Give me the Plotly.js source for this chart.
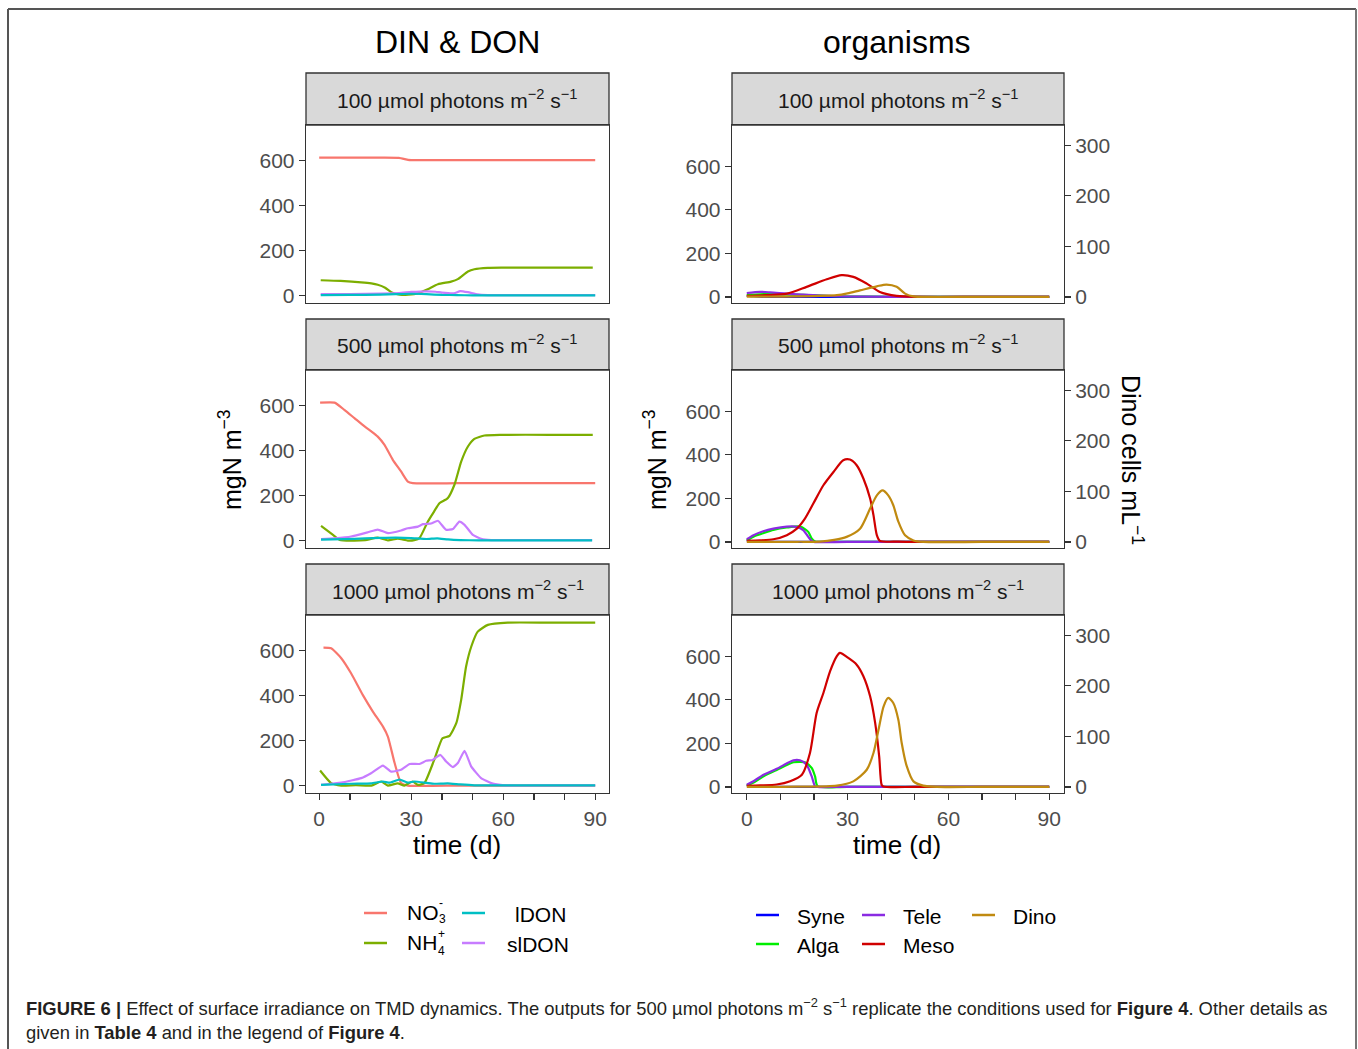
<!DOCTYPE html>
<html>
<head>
<meta charset="utf-8">
<script src="https://cdn.plot.ly/plotly-3.0.1.min.js"></script>
<style>html,body{margin:0;padding:0;background:#fff;}#chart{width:1358px;height:1049px;}</style>
</head>
<body>
<div id="chart"></div>
<script>
// ---------- DATA ----------
const panelLabels = ["100", "500", "1000"];
const xTickVals = [0, 10, 20, 30, 40, 50, 60, 70, 80, 90];
const xTickText = ["0", "", "", "30", "", "", "60", "", "", "90"];
const yTickLeft = [0, 200, 400, 600];
const yTickDino = [0, 100, 200, 300];

// DIN & DON, 100
const no3_100_t = [0, 10, 20, 26, 29, 30, 45, 60, 75, 90];
const no3_100 = [613, 613, 613, 612, 603, 602, 602, 602, 602, 602];
const nh4_100_t = [0.5, 7, 13.7, 17, 19.1, 21.5, 23.5, 25.5, 27, 29, 32.2, 35.4, 38.7, 43, 45.2, 48.5, 50.6, 55, 60, 75, 89.2];
const nh4_100 = [68, 65, 59, 54, 48, 35, 15, 6, 3, 4, 10, 28, 50, 62, 73, 107, 117, 123, 124, 124, 124];
const sidon_100_t = [0.5, 10, 20, 26, 30, 35, 38, 40, 44, 46, 48.5, 51.7, 55, 70, 90];
const sidon_100 = [6, 7, 9, 11, 16, 19, 17, 13, 10, 20, 15, 5, 2, 2, 2];
const idon_100_t = [0.5, 10, 20, 25, 30, 35, 40, 45, 50, 60, 90];
const idon_100 = [2, 3, 4, 6, 8, 6, 3, 2, 1, 1, 1];

// DIN & DON, 500
const no3_500_t = [0.3, 5, 8.2, 11.5, 14.8, 17, 19.1, 21.3, 24, 26.7, 28.9, 30.5, 45, 60, 75, 90];
const no3_500 = [613, 613, 581, 544, 507, 485, 462, 425, 359, 307, 262, 255, 255, 255, 255, 255];
const nh4_500_t = [0.6, 4.5, 6.7, 10.5, 15, 19.1, 22.4, 25.6, 28.9, 31, 32.7, 35.4, 37.5, 39.2, 41.9, 44.1, 46.3, 48.5, 50.6, 53.9, 59.3, 75, 89.2];
const nh4_500 = [65, 25, 3, 0, 2, 13, 1, 8, 0, 2, 11, 84, 130, 166, 188, 248, 351, 418, 452, 467, 470, 470, 470];
const sidon_500_t = [0.6, 5, 10.4, 15.9, 19.1, 22.4, 26.7, 28.9, 32.2, 33.8, 36.5, 38.7, 41.4, 43.6, 45.7, 47.4, 50.1, 52.8, 56.1, 70, 89];
const sidon_500 = [6, 10, 18, 37, 49, 33, 45, 55, 62, 73, 76, 88, 48, 51, 84, 70, 25, 8, 2, 2, 2];
const idon_500_t = [0.6, 8, 15, 20, 25, 30, 35, 38.5, 42, 46, 52, 60, 89];
const idon_500 = [4, 6, 10, 12, 13, 11, 7, 10, 5, 2, 1, 1, 1];

// DIN & DON, 1000
const no3_1000_t = [1.4, 3.9, 7.2, 10.4, 14.2, 17.5, 20.8, 22.4, 24.6, 26.7, 28.9, 45, 60, 75, 90];
const no3_1000 = [613, 610, 566, 499, 403, 329, 262, 218, 100, 11, 0, 0, 0, 0, 0];
const nh4_1000_t = [0.3, 3.9, 7.2, 12, 17, 20.2, 22.4, 25.6, 27.8, 30.5, 32.2, 34.3, 37.5, 40.2, 42.5, 44.7, 46.3, 47.9, 49.6, 51.7, 55, 61.5, 75, 90];
const nh4_1000 = [67, 11, 0, 2, 0, 18, 0, 10, 0, 18, 3, 11, 114, 210, 221, 277, 381, 529, 618, 684, 714, 724, 724, 724];
const sidon_1000_t = [0.6, 7.2, 13.7, 16.9, 20.8, 23.5, 26.7, 29.5, 32.7, 34.9, 37, 39.5, 41.4, 43.6, 45.2, 47.4, 49.6, 52.8, 56.1, 60.4, 75, 90];
const sidon_1000 = [3, 13, 33, 55, 89, 62, 70, 96, 96, 110, 114, 136, 107, 82, 100, 154, 84, 33, 11, 1, 1, 1];
const idon_1000_t = [0.6, 10.4, 17, 20.8, 23, 26.2, 28.9, 31, 35, 37.5, 41.9, 46, 50.6, 60, 90];
const idon_1000 = [3, 8, 10, 18, 13, 27, 13, 18, 12, 8, 10, 5, 1, 1, 1];

// organisms, 100
const syne_100_t = [0, 2, 4, 8, 90];
const syne_100 = [6, 3, 1, 0, 0];
const alga_100_t = [0, 4, 6.9, 11.9, 16.8, 26.8, 35, 45, 90];
const alga_100 = [8, 12, 13, 12, 9, 3, 1, 0, 0];
const tele_100_t = [0, 4, 6.9, 11.9, 16.8, 26.8, 35, 45, 90];
const tele_100 = [18, 23, 21, 15, 10, 3, 1, 0, 0];
const meso_100_t = [0, 6, 11.9, 17.8, 23.8, 28.2, 31.7, 35.7, 39.6, 44.6, 51.5, 70, 90];
const meso_100 = [5, 8, 15, 46, 81, 100, 92, 61, 23, 5, 0, 0, 0];
const dino_100_t = [0, 15, 26.8, 30, 33.7, 38.7, 41.6, 44.6, 47.1, 49.6, 55, 70, 90];
const dino_100 = [0.5, 1, 3.4, 7, 13, 21, 24.4, 20, 6.6, 1, 0, 0, 0];

// organisms, 500
const syne_500_t = [0, 1, 2, 4, 90];
const syne_500 = [10, 5, 1, 0, 0];
const alga_500_t = [0, 2, 4.9, 7.9, 11.9, 15.9, 18.3, 19.3, 20.3, 21, 30, 90];
const alga_500 = [8, 24, 40, 55, 66, 70, 46, 16, 2, 0, 0, 0];
const tele_500_t = [0, 2, 4.9, 7.9, 11.9, 14.9, 16.8, 18.3, 19.3, 20, 30, 90];
const tele_500 = [12, 31, 49, 61, 70, 69, 54, 23, 5, 0, 0, 0];
const meso_500_t = [0, 4, 7.9, 11.9, 14.9, 17.3, 19.8, 22.8, 25.8, 28.7, 30.7, 32.7, 34.7, 36.7, 37.7, 38.7, 39.6, 45, 51.5, 70, 90];
const meso_500 = [5, 7, 12, 31, 61, 107, 176, 260, 321, 375, 378, 352, 291, 199, 123, 31, 5, 1, 0, 0, 0];
const dino_500_t = [0, 15, 21.8, 26, 29.7, 33.7, 36.7, 38.7, 40.4, 42.1, 43.6, 45.1, 47.1, 49.6, 52.5, 70, 90];
const dino_500 = [0, 0.3, 0.7, 4, 10, 26, 66, 92, 102, 92, 72.5, 40, 13, 3, 0, 0, 0];

// organisms, 1000
const syne_1000_t = [0, 1, 2.5, 4, 90];
const syne_1000 = [10, 5, 1, 0, 0];
const alga_1000_t = [0, 2, 5, 8.9, 13.9, 15.8, 17.3, 19.3, 20.3, 21.1, 30, 90];
const alga_1000 = [6, 20, 49, 78, 113, 115, 113, 87, 49, 3, 0, 0];
const tele_1000_t = [0, 2, 5, 8.9, 13.9, 15.8, 17.8, 19.3, 20.3, 21, 30, 90];
const tele_1000 = [10, 26, 56, 83, 122, 122, 102, 49, 3, 0, 0, 0];
const meso_1000_t = [0, 4, 8.9, 12.9, 16.4, 18.8, 20.8, 22.8, 24.8, 26.8, 27.7, 30.2, 32.7, 34.7, 36.7, 38.2, 39.4, 40.1, 40.6, 50, 70, 90];
const meso_1000 = [5, 7, 11, 26, 56, 156, 340, 431, 531, 600, 615, 592, 561, 508, 416, 294, 140, 11, 2, 0, 0, 0];
const dino_1000_t = [0, 15, 26.8, 31.7, 35.7, 37.7, 39.2, 40.7, 42.1, 43.6, 45.1, 46.1, 47.6, 49.6, 52.5, 56.5, 70, 90];
const dino_1000 = [0, 0.5, 2.6, 11, 34, 67, 113, 159, 176, 166, 133, 87, 41, 11, 2.6, 0, 0, 0];

// ---------- STYLE ----------
const W = 1358, H = 1049;
const FONT = "Liberation Sans, Arial, Helvetica, sans-serif";
const C = {
  no3: "#F8766D", nh4: "#7CAE00", idon: "#00BFC4", sidon: "#C77CFF",
  syne: "#0000FF", alga: "#00EE00", tele: "#8A2BE2", meso: "#D00000", dino: "#C08A10"
};
const px = x => x / W;
const py = y => 1 - y / H;

const traces = [];
function line(t, v, color, xa, ya, smooth) {
  traces.push({type: "scatter", mode: "lines", x: t, y: v, xaxis: xa, yaxis: ya,
    line: {color: color, width: 2.2, shape: smooth ? "spline" : "linear", smoothing: smooth || 0},
    showlegend: false, hoverinfo: "skip"});
}
// left column
line(no3_100_t, no3_100, C.no3, "x", "y", 0.5);
line(nh4_100_t, nh4_100, C.nh4, "x", "y", 0.6);
line(sidon_100_t, sidon_100, C.sidon, "x", "y", 0.4);
line(idon_100_t, idon_100, C.idon, "x", "y", 0.4);
line(no3_500_t, no3_500, C.no3, "x2", "y2", 0.5);
line(nh4_500_t, nh4_500, C.nh4, "x2", "y2", 0.5);
line(sidon_500_t, sidon_500, C.sidon, "x2", "y2", 0.4);
line(idon_500_t, idon_500, C.idon, "x2", "y2", 0.4);
line(no3_1000_t, no3_1000, C.no3, "x3", "y3", 0.5);
line(nh4_1000_t, nh4_1000, C.nh4, "x3", "y3", 0.5);
line(sidon_1000_t, sidon_1000, C.sidon, "x3", "y3", 0.4);
line(idon_1000_t, idon_1000, C.idon, "x3", "y3", 0.4);
// right column
line(syne_100_t, syne_100, C.syne, "x4", "y4", 0.6);
line(alga_100_t, alga_100, C.alga, "x4", "y4", 0.8);
line(tele_100_t, tele_100, C.tele, "x4", "y4", 0.8);
line(meso_100_t, meso_100, C.meso, "x4", "y4", 0.8);
line(dino_100_t, dino_100, C.dino, "x4", "y7", 0.8);
line(syne_500_t, syne_500, C.syne, "x5", "y5", 0.6);
line(alga_500_t, alga_500, C.alga, "x5", "y5", 0.7);
line(tele_500_t, tele_500, C.tele, "x5", "y5", 0.7);
line(meso_500_t, meso_500, C.meso, "x5", "y5", 0.7);
line(dino_500_t, dino_500, C.dino, "x5", "y8", 0.7);
line(syne_1000_t, syne_1000, C.syne, "x6", "y6", 0.6);
line(alga_1000_t, alga_1000, C.alga, "x6", "y6", 0.7);
line(tele_1000_t, tele_1000, C.tele, "x6", "y6", 0.7);
line(meso_1000_t, meso_1000, C.meso, "x6", "y6", 0.7);
line(dino_1000_t, dino_1000, C.dino, "x6", "y9", 0.7);

// ---------- LAYOUT ----------
const rows = [[125, 303], [370, 548], [615, 793]];
const strips = [[73, 125], [319, 370], [564, 615]];
const colL = [306, 609], colR = [732, 1064];
const tickFont = {family: FONT, size: 21, color: "#4D4D4D"};

function xAxis(col, row, anchor) {
  const bottom = row === 2;
  return {
    domain: [px(col[0]), px(col[1])],
    range: col === colL ? [-4.3, 94.5] : [-4.4, 94.4],
    anchor: anchor, tickmode: "array", tickvals: xTickVals, ticktext: xTickText,
    ticks: bottom ? "outside" : "", ticklen: 6, tickwidth: 1.3, tickcolor: "#333",
    showticklabels: bottom, tickfont: tickFont,
    showline: true, mirror: true, linecolor: "#333", linewidth: 1.3,
    showgrid: false, zeroline: false
  };
}
function yAxis(row, anchor, range) {
  return {
    domain: [py(rows[row][1]), py(rows[row][0])],
    range: range, anchor: anchor, tickmode: "array", tickvals: yTickLeft,
    ticks: "outside", ticklen: 6, tickwidth: 1.3, tickcolor: "#333", tickfont: tickFont,
    showline: true, mirror: true, linecolor: "#333", linewidth: 1.3,
    showgrid: false, zeroline: false
  };
}
function dinoAxis(over, anchor) {
  return {
    overlaying: over, side: "right", anchor: anchor, range: [-12, 340],
    tickmode: "array", tickvals: yTickDino, ticks: "outside", ticklen: 6, tickwidth: 1.3,
    tickcolor: "#333", tickfont: tickFont, showline: false, showgrid: false, zeroline: false
  };
}

const shapes = [];
const annotations = [];
// frame
shapes.push({type: "line", xref: "paper", yref: "paper", x0: px(8), x1: px(1356), y0: py(9), y1: py(9), line: {color: "#555", width: 2}});
shapes.push({type: "line", xref: "paper", yref: "paper", x0: px(8), x1: px(8), y0: py(9), y1: py(1049), line: {color: "#555", width: 2}});
shapes.push({type: "line", xref: "paper", yref: "paper", x0: px(1356), x1: px(1356), y0: py(9), y1: py(1049), line: {color: "#777", width: 2}});

// strips
[colL, colR].forEach(col => {
  strips.forEach((s, i) => {
    shapes.push({type: "rect", xref: "paper", yref: "paper", x0: px(col[0]), x1: px(col[1]),
      y0: py(s[1]), y1: py(s[0]), fillcolor: "#D9D9D9", line: {color: "#333", width: 1.3}, layer: "below"});
    annotations.push({xref: "paper", yref: "paper", x: px((col[0] + col[1]) / 2), y: py((s[0] + s[1]) / 2),
      xanchor: "center", yanchor: "middle", showarrow: false,
      text: panelLabels[i] + " µmol photons m<sup>−2</sup> s<sup>−1</sup>",
      font: {family: FONT, size: 21, color: "#1A1A1A"}});
  });
});

// titles
function ann(x, y, text, size, opts) {
  annotations.push(Object.assign({xref: "paper", yref: "paper", x: px(x), y: py(y), text: text,
    showarrow: false, xanchor: "center", yanchor: "middle",
    font: {family: FONT, size: size, color: "#000"}}, opts || {}));
}
ann(457, 42, "DIN &amp; DON", 32);
ann(897, 42, "organisms", 32);
ann(457, 845, "time (d)", 26);
ann(897, 845, "time (d)", 26);
ann(230, 460, "mgN m<sup>−3</sup>", 25, {textangle: -90});
ann(655, 460, "mgN m<sup>−3</sup>", 25, {textangle: -90});
ann(1132, 460, "Dino cells mL<sup>−1</sup>", 25, {textangle: 90});

// legends (keys drawn as short lines, labels as text)
function key(x, y, color) {
  shapes.push({type: "line", xref: "paper", yref: "paper", x0: px(x), x1: px(x + 23), y0: py(y), y1: py(y),
    line: {color: color, width: 2.5}});
}
const legFont = 21;
key(364, 913, C.no3); key(364, 943, C.nh4); key(462, 913, C.idon); key(462, 943, C.sidon);
ann(405, 912, "NO", legFont, {xanchor: "left"});
ann(437, 903, "-", 12, {xanchor: "left"});
ann(437, 919, "3", 12, {xanchor: "left"});
ann(405, 942, "NH", legFont, {xanchor: "left"});
ann(436, 934, "+", 12, {xanchor: "left"});
ann(436, 951, "4", 12, {xanchor: "left"});
ann(513, 914, "lDON", legFont, {xanchor: "left"});
ann(505, 944, "slDON", legFont, {xanchor: "left"});

key(756, 915, C.syne); key(756, 944, C.alga); key(862, 915, C.tele); key(862, 944, C.meso); key(972, 915, C.dino);
ann(795, 916, "Syne", legFont, {xanchor: "left"});
ann(795, 945, "Alga", legFont, {xanchor: "left"});
ann(901, 916, "Tele", legFont, {xanchor: "left"});
ann(901, 945, "Meso", legFont, {xanchor: "left"});
ann(1011, 916, "Dino", legFont, {xanchor: "left"});

// caption
const capFont = {family: FONT, size: 18.4, color: "#231F20"};
annotations.push({xref: "paper", yref: "paper", x: px(24), y: py(1007), xanchor: "left", yanchor: "middle", showarrow: false,
  font: capFont,
  text: "<b>FIGURE 6 |</b> Effect of surface irradiance on TMD dynamics. The outputs for 500 µmol photons m<sup>−2</sup> s<sup>−1</sup> replicate the conditions used for <b>Figure 4</b>. Other details as"});
annotations.push({xref: "paper", yref: "paper", x: px(24), y: py(1032), xanchor: "left", yanchor: "middle", showarrow: false,
  font: capFont,
  text: "given in <b>Table 4</b> and in the legend of <b>Figure 4</b>."});

const layout = {
  width: W, height: H, margin: {l: 0, r: 0, t: 0, b: 0},
  paper_bgcolor: "#fff", plot_bgcolor: "rgba(0,0,0,0)",
  font: {family: FONT},
  showlegend: false,
  xaxis: xAxis(colL, 0, "y"), yaxis: yAxis(0, "x", [-33, 758]),
  xaxis2: xAxis(colL, 1, "y2"), yaxis2: yAxis(1, "x2", [-33, 758]),
  xaxis3: xAxis(colL, 2, "y3"), yaxis3: yAxis(2, "x3", [-33, 758]),
  xaxis4: xAxis(colR, 0, "y4"), yaxis4: yAxis(0, "x4", [-28, 789]),
  xaxis5: xAxis(colR, 1, "y5"), yaxis5: yAxis(1, "x5", [-28, 789]),
  xaxis6: xAxis(colR, 2, "y6"), yaxis6: yAxis(2, "x6", [-28, 789]),
  yaxis7: dinoAxis("y4", "x4"),
  yaxis8: dinoAxis("y5", "x5"),
  yaxis9: dinoAxis("y6", "x6"),
  shapes: shapes, annotations: annotations
};

Plotly.newPlot("chart", traces, layout, {staticPlot: true, displayModeBar: false});
</script>
</body>
</html>
